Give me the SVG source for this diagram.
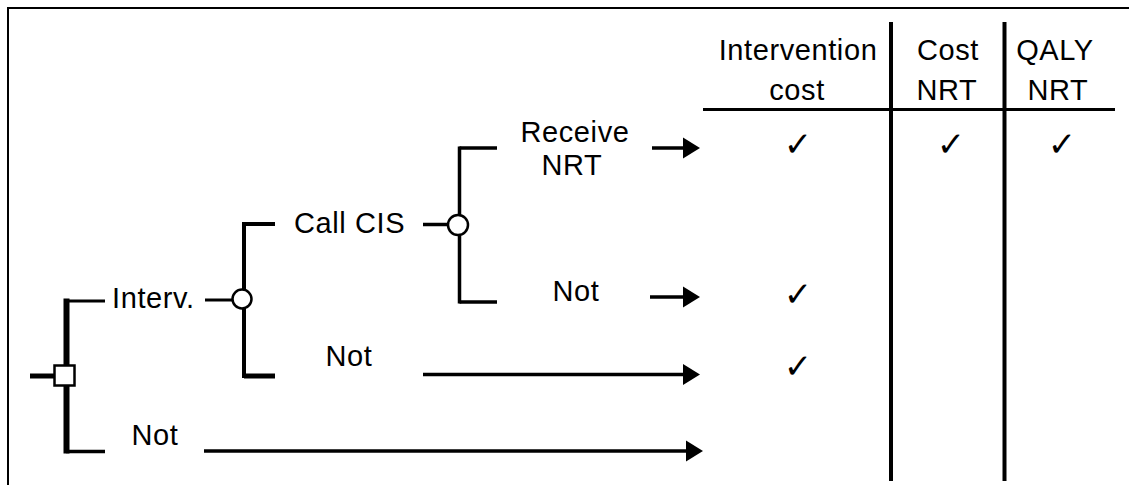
<svg xmlns="http://www.w3.org/2000/svg" width="1129" height="485" viewBox="0 0 1129 485">
  <style>
    .lbl { font-family: "Liberation Sans", Arial, sans-serif; font-size: 29px; letter-spacing: 0.6px; fill: #000; }
    .mid { text-anchor: middle; }
    .chk { font-family: "DejaVu Sans", sans-serif; font-size: 34px; fill: #000; text-anchor: middle; }
    .ln { stroke: #000; fill: none; }
    .node { fill: #fff; stroke: #000; stroke-width: 2.5; }
  </style>
  <defs>
    <marker id="arrow" markerUnits="userSpaceOnUse" markerWidth="18" markerHeight="22" refX="9" refY="11" orient="auto">
      <path d="M0,0.5 L17,11 L0,21.5 Z" fill="#000"/>
    </marker>
  </defs>

  <rect width="1129" height="485" fill="#fff"/>
  <!-- frame -->
  <path d="M8,485 V8 H1129" class="ln" stroke-width="2"/>

  <!-- tree branches and arrows -->
  <g id="connectors" class="ln">
    <line x1="30" y1="376" x2="55" y2="376" stroke-width="5"/>
    <line x1="66.5" y1="298.5" x2="66.5" y2="453.5" stroke-width="6"/>
    <line x1="66" y1="301" x2="105" y2="301" stroke-width="3"/>
    <line x1="66" y1="451.5" x2="105" y2="451.5" stroke-width="3.5"/>
    <line x1="205" y1="300" x2="233" y2="300" stroke-width="3"/>
    <line x1="244" y1="222" x2="244" y2="378" stroke-width="4"/>
    <line x1="244" y1="224" x2="275" y2="224" stroke-width="4"/>
    <line x1="244" y1="376" x2="275" y2="376" stroke-width="5"/>
    <line x1="423" y1="224.5" x2="448" y2="224.5" stroke-width="3.5"/>
    <line x1="459.5" y1="146.5" x2="459.5" y2="303.5" stroke-width="3.5"/>
    <line x1="459.5" y1="148" x2="497" y2="148" stroke-width="3.5"/>
    <line x1="459.5" y1="302" x2="497" y2="302" stroke-width="3.5"/>
    <line x1="652" y1="148" x2="692" y2="148" stroke-width="3.3" marker-end="url(#arrow)"/>
    <line x1="650" y1="297" x2="692" y2="297" stroke-width="3.3" marker-end="url(#arrow)"/>
    <line x1="423" y1="374.5" x2="692" y2="374.5" stroke-width="3.3" marker-end="url(#arrow)"/>
    <line x1="204" y1="451" x2="695" y2="451" stroke-width="3.3" marker-end="url(#arrow)"/>
  </g>

  <!-- decision node -->
  <g id="root">
    <rect class="node" x="54.5" y="365.5" width="20" height="20"/>
  </g>
  <g id="interv">
    <text class="lbl" x="112" y="308">Interv.</text>
    <circle class="node" cx="242" cy="299" r="9.5"/>
  </g>
  <g id="callcis">
    <text class="lbl" x="294" y="233">Call CIS</text>
    <circle class="node" cx="458" cy="225" r="10"/>
  </g>
  <g id="receive">
    <text class="lbl mid" x="575" y="142">Receive</text>
    <text class="lbl mid" x="572" y="175">NRT</text>
  </g>
  <g id="not-cis">
    <text class="lbl mid" x="576" y="301">Not</text>
  </g>
  <g id="not-call">
    <text class="lbl mid" x="349" y="366">Not</text>
  </g>
  <g id="not-interv">
    <text class="lbl mid" x="155" y="445">Not</text>
  </g>

  <!-- outcome table -->
  <g id="table">
    <line class="ln" x1="703" y1="109.5" x2="1115" y2="109.5" stroke-width="3"/>
    <line class="ln" x1="891" y1="22" x2="891" y2="481" stroke-width="4"/>
    <line class="ln" x1="1004.5" y1="22" x2="1004.5" y2="481" stroke-width="4"/>
    <text class="lbl mid" x="798" y="60">Intervention</text>
    <text class="lbl mid" x="797" y="100">cost</text>
    <text class="lbl mid" x="948" y="60">Cost</text>
    <text class="lbl mid" x="947" y="100">NRT</text>
    <text class="lbl mid" x="1055" y="60">QALY</text>
    <text class="lbl mid" x="1058" y="100">NRT</text>
    <text class="chk" x="798" y="156">✓</text>
    <text class="chk" x="951" y="156">✓</text>
    <text class="chk" x="1062" y="156">✓</text>
    <text class="chk" x="798" y="306">✓</text>
    <text class="chk" x="798" y="378">✓</text>
  </g>
</svg>
